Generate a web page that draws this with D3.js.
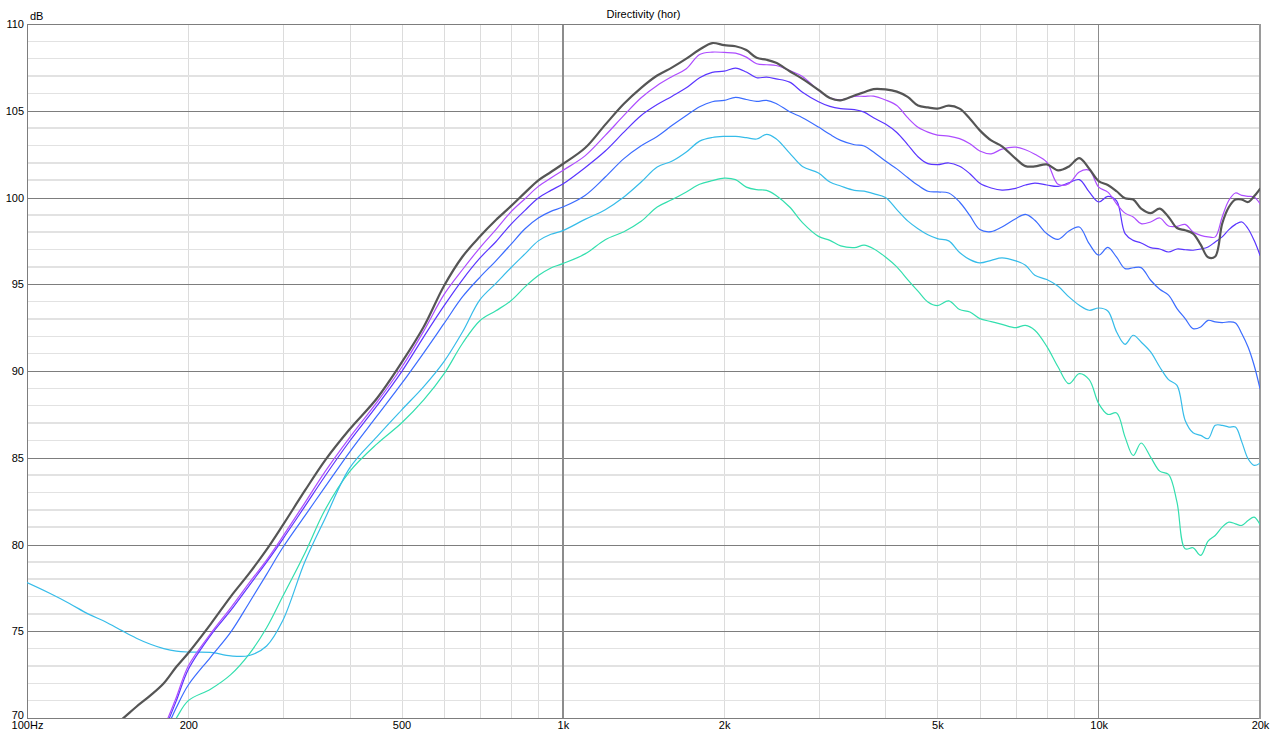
<!DOCTYPE html>
<html>
<head>
<meta charset="utf-8">
<script src="https://cdn.jsdelivr.net/npm/d3@7"></script>
<style>
  html, body { margin: 0; padding: 0; background: #fff; }
  #container { width: 1280px; height: 744px; }
  text { font-family: "Liberation Sans", Arial, sans-serif; }
</style>
</head>
<body>
<div id="container"></div>
<script>
// frequency grid (Hz) shared by all the curves
const freqs = [100,110,120,130,140,150,160,170,180,190,
  200,220,240,260,280,300,330,360,400,450,
  500,550,600,650,700,750,800,850,900,950,
  1000,1100,1200,1300,1400,1500,1600,1700,1800,1900,
  2000,2100,2200,2300,2400,2500,2650,2800,3000,3150,
  3300,3500,3650,3800,4000,4200,4400,4600,4800,5000,
  5250,5500,5750,6000,6300,6600,7000,7300,7600,8000,
  8400,8800,9200,9600,10000,10400,10800,11200,11600,12000,
  12500,13000,13500,14000,14500,15000,15500,16000,16500,17000,
  17500,18000,18500,19000,19500,20000];

// SPL (dB), one array per angle; null = below the visible range
const curveGray = [null,null,null,null,69.2,69.9,70.65,71.3,72.0,72.95,
  73.75,75.4,77.0,78.35,79.7,81.1,83.1,84.85,86.64,88.43,
  90.48,92.55,94.9,96.6,97.75,98.7,99.5,100.28,100.99,101.47,
  101.93,102.85,104.2,105.4,106.32,107.03,107.5,108.0,108.53,108.9,
  108.78,108.72,108.5,108.05,107.94,107.76,107.28,106.84,106.2,105.73,
  105.6,105.88,106.07,106.25,106.23,106.1,105.8,105.3,105.19,105.12,
  105.29,105.12,104.54,103.87,103.29,102.95,102.24,101.81,101.79,101.91,
  101.56,101.79,102.27,101.66,100.95,100.72,100.36,99.95,99.88,99.36,
  99.1,99.36,98.88,98.24,98.11,97.92,97.28,96.55,96.6,98.49,
  99.45,99.88,99.88,99.74,100.07,100.5];

const curveViolet = [null,null,null,null,null,null,null,null,69.4,71.2,
  73.0,74.85,76.35,77.8,79.1,80.45,82.4,84.2,86.16,88.2,
  90.2,92.3,94.4,95.85,97.1,98.15,99.17,99.93,100.64,101.12,
  101.56,102.4,103.58,104.73,105.75,106.46,106.98,107.42,108.24,108.38,
  108.36,108.32,108.09,107.71,107.65,107.61,107.32,106.98,106.17,105.75,
  105.63,105.83,105.83,105.84,105.62,105.3,104.6,104.05,103.77,103.6,
  103.54,103.39,103.1,102.68,102.52,102.79,102.9,102.75,102.49,102.04,
  100.76,100.8,101.47,101.57,100.6,100.31,99.64,99.1,98.88,98.49,
  98.59,98.82,98.36,98.34,98.45,98.01,97.82,97.73,97.73,98.88,
  99.84,100.26,100.12,100.07,100.03,99.64];

const curveIndigo = [null,null,null,null,null,null,null,null,69.2,71.0,
  72.8,74.75,76.2,77.65,78.98,80.3,82.2,83.95,85.95,88.0,
  89.95,91.97,93.75,95.27,96.5,97.45,98.45,99.26,99.97,100.41,
  100.78,101.72,102.68,103.77,104.73,105.36,105.84,106.32,106.9,107.21,
  107.28,107.46,107.23,106.9,106.94,106.84,106.65,106.07,105.52,105.25,
  105.12,105.06,104.92,104.6,104.23,103.75,103.05,102.35,101.95,101.89,
  101.99,101.8,101.37,100.82,100.55,100.43,100.53,100.72,100.83,100.72,
  100.64,100.85,101.03,100.32,99.74,100.07,99.8,97.92,97.53,97.38,
  97.11,97.03,96.86,97.03,96.99,96.96,97.03,97.15,97.44,97.73,
  98.15,98.45,98.59,98.2,97.53,96.67];

const curveBlue = [null,null,null,null,null,null,null,null,69.0,70.6,
  71.9,73.5,74.95,76.66,78.28,79.81,81.65,83.32,85.33,87.41,
  89.27,91.05,92.73,94.28,95.4,96.35,97.3,98.2,98.82,99.2,
  99.45,100.12,101.18,102.24,102.98,103.52,104.16,104.73,105.23,105.52,
  105.6,105.77,105.65,105.54,105.6,105.42,104.94,104.6,104.06,103.64,
  103.29,103.04,102.97,102.62,102.1,101.65,101.15,100.7,100.36,100.32,
  100.26,99.74,98.95,98.15,98.03,98.3,98.78,99.03,98.69,97.92,
  97.59,98.07,98.3,97.34,96.68,97.12,96.56,95.9,95.95,95.96,
  95.23,94.71,94.37,93.6,93.02,92.44,92.54,92.92,92.83,92.79,
  92.83,92.77,92.15,91.38,90.33,88.98];

const curveCyan = [77.8,77.2,76.6,76.0,75.55,75.05,74.6,74.25,74.0,73.85,
  73.8,73.78,73.58,73.6,74.15,75.6,79.0,81.5,84.4,86.22,
  87.75,89.1,90.54,92.26,94.1,95.05,95.95,96.75,97.5,97.88,
  98.09,98.74,99.3,100.03,100.89,101.76,102.1,102.62,103.25,103.46,
  103.52,103.52,103.45,103.37,103.64,103.39,102.56,101.79,101.41,100.89,
  100.66,100.41,100.37,100.22,100.0,99.3,98.65,98.2,97.85,97.63,
  97.5,96.83,96.42,96.23,96.38,96.52,96.35,96.1,95.52,95.27,
  94.88,94.27,93.79,93.5,93.63,93.46,92.25,91.54,92.06,91.67,
  91.1,90.23,89.5,89.17,87.15,86.44,86.29,86.1,86.87,86.87,
  86.77,86.77,85.9,84.94,84.56,84.69];

const curveGreen = [null,null,null,null,null,null,null,null,68.8,70.0,
  71.0,71.66,72.5,73.7,75.2,77.0,79.5,82.0,84.2,85.8,
  87.0,88.33,89.83,91.6,92.9,93.47,94.05,94.85,95.5,95.94,
  96.19,96.75,97.57,98.03,98.63,99.45,99.88,100.32,100.76,100.97,
  101.12,101.03,100.6,100.45,100.41,100.12,99.45,98.55,97.76,97.53,
  97.21,97.11,97.25,97.05,96.57,96.0,95.27,94.6,93.98,93.77,
  94.04,93.54,93.4,93.02,92.85,92.69,92.5,92.63,92.35,91.42,
  90.23,89.27,89.85,89.5,88.12,87.5,87.58,86.19,85.13,85.85,
  85.04,84.23,84.04,82.44,79.75,79.81,79.37,80.19,80.52,81.0,
  81.29,81.19,81.1,81.38,81.58,81.15];

// axis ticks
const yTicks = [70, 75, 80, 85, 90, 95, 100, 105, 110];
const xTicks = [100, 200, 500, 1000, 2000, 5000, 10000, 20000];
const xTickLabels = ["100Hz", "200", "500", "1k", "2k", "5k", "10k", "20k"];

const series = [
  { values: curveGreen,  color: "#33dfae", width: 1.2 },
  { values: curveCyan,   color: "#36bce9", width: 1.2 },
  { values: curveBlue,   color: "#3b6cff", width: 1.2 },
  { values: curveIndigo, color: "#5a35ff", width: 1.2 },
  { values: curveViolet, color: "#ad4cff", width: 1.2 },
  { values: curveGray,   color: "#555555", width: 2.2 }
];

const width = 1280;
const height = 744;
const marginTop = 24;
const marginRight = 20;
const marginBottom = 26;
const marginLeft = 27;

const svg = d3.select("#container")
  .append("svg")
  .attr("width", width)
  .attr("height", height)
  .attr("viewBox", [0, 0, width, height]);

const x = d3.scaleLog()
  .domain([100, 20000])
  .range([marginLeft, width - marginRight]);

const y = d3.scaleLinear()
  .domain([70, 110])
  .range([height - marginBottom, marginTop]);

const x0 = x.range()[0], x1 = x.range()[1];
const y0 = y.range()[0], y1 = y.range()[1];

// minor grid
const minorFreqs = [];
[100, 1000, 10000].forEach(dec => {
  for (let k = 2; k <= 9; k++) if (dec * k < 20000) minorFreqs.push(dec * k);
});
const minorDb = d3.range(71, 110).filter(v => v % 5 !== 0);

const grid = svg.append("g").attr("shape-rendering", "crispEdges");

grid.append("g")
  .attr("stroke", "#dcdcdc")
  .selectAll("line")
  .data(minorFreqs)
  .join("line")
  .attr("x1", d => Math.round(x(d)) + 0.5)
  .attr("x2", d => Math.round(x(d)) + 0.5)
  .attr("y1", y1)
  .attr("y2", y0);

grid.append("g")
  .attr("stroke", "#e2e2e2")
  .attr("stroke-width", 1.5)
  .selectAll("line")
  .data(minorDb)
  .join("line")
  .attr("x1", x0)
  .attr("x2", x1)
  .attr("y1", d => y(d))
  .attr("y2", d => y(d));

// major grid
grid.append("g")
  .attr("stroke", "#7d7d7d")
  .selectAll("line")
  .data(yTicks.slice(1, -1))
  .join("line")
  .attr("x1", x0)
  .attr("x2", x1)
  .attr("y1", d => Math.round(y(d)) + 0.5)
  .attr("y2", d => Math.round(y(d)) + 0.5);

grid.append("g")
  .attr("stroke", "#8c8c8c")
  .attr("stroke-width", 1.5)
  .selectAll("line")
  .data([1000, 10000])
  .join("line")
  .attr("x1", d => x(d))
  .attr("x2", d => x(d))
  .attr("y1", y1)
  .attr("y2", y0);

// frame
grid.append("rect")
  .attr("x", x0 + 0.5)
  .attr("y", y1 + 0.5)
  .attr("width", x1 - x0)
  .attr("height", y0 - y1)
  .attr("fill", "none")
  .attr("stroke", "#7d7d7d");

grid.append("line")
  .attr("x1", x1).attr("x2", x1)
  .attr("y1", y1).attr("y2", y0 + 1)
  .attr("stroke", "#9a9a9a")
  .attr("stroke-width", 2);

// curves
svg.append("clipPath")
  .attr("id", "plot-clip")
  .append("rect")
  .attr("x", x0)
  .attr("y", y1)
  .attr("width", x1 - x0)
  .attr("height", y0 - y1);

const line = d3.line()
  .defined(d => d[1] != null)
  .curve(d3.curveCatmullRom)
  .x(d => x(d[0]))
  .y(d => y(d[1]));

svg.append("g")
  .attr("clip-path", "url(#plot-clip)")
  .attr("fill", "none")
  .attr("stroke-linejoin", "round")
  .attr("stroke-linecap", "round")
  .selectAll("path")
  .data(series)
  .join("path")
  .attr("stroke", d => d.color)
  .attr("stroke-width", d => d.width)
  .attr("d", d => line(freqs.map((f, i) => [f, d.values[i]])));

// axes (labels only)
svg.append("g")
  .attr("transform", `translate(${x0},0)`)
  .call(d3.axisLeft(y).tickValues(yTicks).tickSize(0).tickPadding(3))
  .call(g => g.select(".domain").remove())
  .call(g => g.selectAll("text")
    .attr("font-size", 11)
    .attr("fill", "#000")
    .attr("font-family", "Liberation Sans, Arial, sans-serif")
    .attr("dy", d => d === 70 ? "0.05em" : "0.32em"));

svg.append("g")
  .attr("transform", `translate(0,${y0})`)
  .call(d3.axisBottom(x).tickValues(xTicks).tickSize(0).tickPadding(3)
    .tickFormat((d, i) => xTickLabels[i]))
  .call(g => g.select(".domain").remove())
  .call(g => g.selectAll("text")
    .attr("font-size", 11)
    .attr("fill", "#000")
    .attr("font-family", "Liberation Sans, Arial, sans-serif"));

// unit and title
svg.append("text")
  .attr("x", x0 + 3)
  .attr("y", y1 - 4)
  .attr("font-size", 11)
  .attr("fill", "#000")
  .text("dB");

svg.append("text")
  .attr("x", (x0 + x1) / 2)
  .attr("y", 18)
  .attr("text-anchor", "middle")
  .attr("font-size", 11)
  .attr("fill", "#000")
  .text("Directivity (hor)");
</script>
</body>
</html>
